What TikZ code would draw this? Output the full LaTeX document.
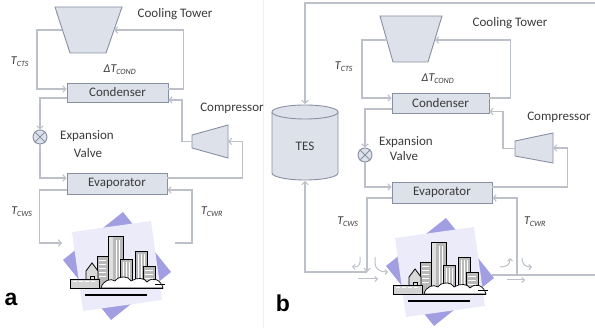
\documentclass[tikz,border=0pt]{standalone}
\usepackage{fontspec}
\setmainfont{Carlito}
\newfontfamily\panelfont{Liberation Sans}
\usetikzlibrary{arrows.meta, positioning}

\definecolor{pipe}{HTML}{BCC1C9}
\definecolor{unitfill}{HTML}{DDE1EA}
\definecolor{unitline}{HTML}{8790A2}
\definecolor{ink}{HTML}{3A3A3A}
\definecolor{lilac}{HTML}{ECEBFA}
\definecolor{violet}{HTML}{A29EE2}

\tikzset{
  pipe/.style={draw=pipe, line width=1.1pt},
  flow/.style={pipe, -{Straight Barb[length=3pt,width=6.5pt]}},
  hint/.style={draw=pipe, line width=1pt, -{Straight Barb[length=2.5pt,width=5pt]}},
  unit/.style={draw=unitline, fill=unitfill, line width=0.9pt, text=ink,
    font=\fontsize{13}{14}\selectfont, inner sep=0pt},
  lbl/.style={text=ink, font=\fontsize{13}{15}\selectfont, inner sep=0pt},
  tlbl/.style={text=ink, font=\fontsize{12}{14}\selectfont\itshape, inner sep=0pt},
  valve/.style={circle, draw=unitline, fill=unitfill, line width=0.9pt,
    minimum size=14pt, inner sep=0pt},
  bldg/.style={fill=gray!55, draw=black, line width=0.8pt},
}

\newcommand{\tsub}[2]{#1\textsubscript{#2}}

% city block, centred on (#1,#2)
\newcommand{\skyline}[2]{%
\begin{scope}[shift={(#1,#2)}]
  \fill[violet] (6,-54) -- (54,6) -- (-6,54) -- (-54,-6) -- cycle;
  \fill[lilac] (-45,-34) -- (34,-45) -- (45,34) -- (-34,45) -- cycle;
  \filldraw[bldg] (18,-15) rectangle (30,22);
  \foreach \x in {21,24,27} \draw[white, line width=0.7pt] (\x,-12) -- (\x,18);
  \filldraw[bldg] (-9,-30) rectangle (6,22);
  \fill[gray!25] (-9,-30) rectangle (-4,22);
  \draw[black, line width=0.8pt] (-9,-30) rectangle (6,22);
  \foreach \x in {-1,2} \draw[white, line width=0.7pt] (\x,-26) -- (\x,18);
  \filldraw[bldg] (-20,-10) rectangle (-9,22);
  \foreach \y in {-6,-2,2,6,10} \draw[white, line width=0.7pt] (-18,\y) -- (-11,\y);
  \filldraw[bldg] (3,-7) rectangle (15,22);
  \foreach \x in {6,9,12} \draw[white, line width=0.7pt] (\x,-4) -- (\x,16);
  \filldraw[bldg] (26,0) rectangle (38,22);
  \foreach \y in {4,8,12} \draw[white, line width=0.7pt] (28,\y) -- (36,\y);
  \filldraw[fill=gray!30, draw=black, line width=0.8pt] (-31,5) -- (-25,-3) -- (-19,5) -- (-19,22) -- (-31,22) -- cycle;
  \draw[black, line width=0.6pt] (-27,10) rectangle (-23,16);
  \filldraw[fill=gray!35, draw=black, line width=0.8pt] (-47,13) rectangle (-18,22);
  \foreach \x in {-44,-38,-32,-26} \draw[white, line width=1pt] (\x,16) -- (\x+4,16);
  \filldraw[fill=white, draw=black, line width=0.7pt]
    (-16,22) .. controls (-14,14) and (-6,12) .. (-2,15)
    .. controls (2,9) and (12,10) .. (14,15)
    .. controls (20,11) and (28,12) .. (30,16)
    .. controls (36,10) and (44,14) .. (46,22) -- cycle;
  \draw[black, line width=0.6pt] (-46,22) -- (46,22);
  \draw[black, line width=1.6pt] (-32,29) -- (30,29);
  \draw[black, line width=1pt] (38,19) -- (48,19);
\end{scope}}

\begin{document}
\begin{tikzpicture}[x=1pt, y=-1pt]
\useasboundingbox (0,0) rectangle (595,328);
\draw[gray!12, line width=0.8pt] (263,0) -- (263,328);

%%% panel a: plain chiller plant
\filldraw[unit] (55,7) -- (122,7) -- (106,53) -- (70,53) -- cycle;
\coordinate (ctAl) at (62,30);
\coordinate (ctAr) at (114,30);
\node[unit, minimum width=101pt, minimum height=19pt] (condA) at (117.5,92.5) {Condenser};
\node[unit, minimum width=100pt, minimum height=21pt] (evapA) at (117,183.5) {Evaporator};
\node[valve] (valveA) at (40,137) {};
\draw[unitline, line width=0.9pt] (valveA.north west) -- (valveA.south east)
  (valveA.north east) -- (valveA.south west);
\filldraw[unit] (192,135) -- (228,125) -- (228,158) -- (192,148) -- cycle;
\coordinate (cmpAl) at (192,141.5);
\coordinate (cmpAr) at (228,141.5);
\coordinate (cityAl) at (62,243);
\coordinate (cityAr) at (175,243);

\draw[flow] ([yshift=3.5pt]condA.east) -- ++(15,0) |- (ctAr);
\draw[flow] (ctAl) -- ++(-25,0) |- ([yshift=3.5pt]condA.west);
\draw[flow] ([yshift=-5.5pt]condA.west) -| (valveA.north);
\draw[flow] (valveA.south) |- ([yshift=5.5pt]evapA.west);
\draw[flow] ([yshift=5.5pt]evapA.east) -- ++(75,0) |- (cmpAr);
\draw[flow] (cmpAl) -- ++(-10,0) |- ([yshift=-7.5pt]condA.east);
\draw[flow] ([yshift=-6.5pt]evapA.west) -- ++(-27,0) |- (cityAl);
\draw[flow] (cityAr) -- ++(17,0) |- ([yshift=-6.5pt]evapA.east);

\skyline{117}{266}

\node[lbl] at (175,14) {Cooling Tower};
\node[lbl] at (232,108) {Compressor};
\node[lbl] at (87,136) {Expansion};
\node[lbl] at (88,153) {Valve};
\node[tlbl] at (20,62) {\tsub{T}{CTS}};
\node[tlbl] at (120,70) {\tsub{ΔT}{COND}};
\node[tlbl] at (22,212) {\tsub{T}{CWS}};
\node[tlbl] at (212,212) {\tsub{T}{CWR}};
\node[font=\panelfont\bfseries\fontsize{23}{24}\selectfont] at (11,299) {a};

%%% panel b: same plant with storage tank
\filldraw[unit] (380,16) -- (442,16) -- (428,62) -- (393,62) -- cycle;
\coordinate (ctBl) at (387,40);
\coordinate (ctBr) at (435,40);
\node[unit, minimum width=97pt, minimum height=20pt] (condB) at (440.5,103) {Condenser};
\node[unit, minimum width=100pt, minimum height=21pt] (evapB) at (442,192.5) {Evaporator};
\node[valve] (valveB) at (365,155) {};
\draw[unitline, line width=0.9pt] (valveB.north west) -- (valveB.south east)
  (valveB.north east) -- (valveB.south west);
\filldraw[unit] (515,141) -- (553,133) -- (553,163) -- (515,156) -- cycle;
\coordinate (cmpBl) at (515,148.5);
\coordinate (cmpBr) at (553,148);

% storage tank
\fill[unitfill] (272,112) -- (272,173) arc[start angle=180, end angle=0, x radius=33, y radius=7] -- (338,112) -- cycle;
\draw[unitline, line width=0.9pt] (272,112) -- (272,173) arc[start angle=180, end angle=0, x radius=33, y radius=7] -- (338,112);
\filldraw[unit] (305,112) ellipse [x radius=33, y radius=7];
\node[lbl] (tes) at (305,146) {TES};
\coordinate (tesT) at (305,104);
\coordinate (tesB) at (305,181);
\coordinate (topR) at (597,3);
\coordinate (junB) at (367,272);
\coordinate (retB) at (517,275);
\coordinate (cityBr) at (492,275);
\coordinate (botR) at (597,275);

\draw[flow] ([yshift=5pt]condB.east) -- ++(21,0) |- (ctBr);
\draw[flow] (ctBl) -- ++(-25,0) |- ([yshift=5pt]condB.west);
\draw[flow] ([yshift=-6pt]condB.west) -| (valveB.north);
\draw[flow] (valveB.south) |- ([yshift=5.5pt]evapB.west);
\draw[flow] ([yshift=5.5pt]evapB.east) -- ++(75,0) |- (cmpBr);
\draw[flow] (cmpBl) -- ++(-12,0) |- ([yshift=-8.5pt]condB.east);
\draw[flow] ([yshift=-5.5pt]evapB.west) -| (junB);
\draw[flow] (junB) -| (tesB);
\draw[flow] (topR) -| (tesT);
\draw[flow] (retB) |- ([yshift=-5.5pt]evapB.east);
\draw[pipe] (cityBr) -- (botR);

% split and merge hints at the tank tees
\draw[hint] (360,257) -- (360,262) .. controls (360,266) and (357,267) .. (352,267);
\draw[hint] (375,257) -- (375,263) .. controls (375,269) and (380,272) .. (388,272);
\draw[hint] (358,279) -- (378,279);
\draw[hint] (500,267) .. controls (506,267) and (510,265) .. (510,258);
\draw[hint] (522,258) .. controls (522,265) and (526,267) .. (532,267);
\draw[hint] (507,280) -- (525,280);

\skyline{440}{272}

\node[lbl] at (510,23) {Cooling Tower};
\node[lbl] at (559,117) {Compressor};
\node[lbl] at (406,142) {Expansion};
\node[lbl] at (404,156) {Valve};
\node[tlbl] at (344,67) {\tsub{T}{CTS}};
\node[tlbl] at (438,79) {\tsub{ΔT}{COND}};
\node[tlbl] at (348,222) {\tsub{T}{CWS}};
\node[tlbl] at (535,222) {\tsub{T}{CWR}};
\node[font=\panelfont\bfseries\fontsize{23}{24}\selectfont] at (283,303) {b};
\end{tikzpicture}
\end{document}
